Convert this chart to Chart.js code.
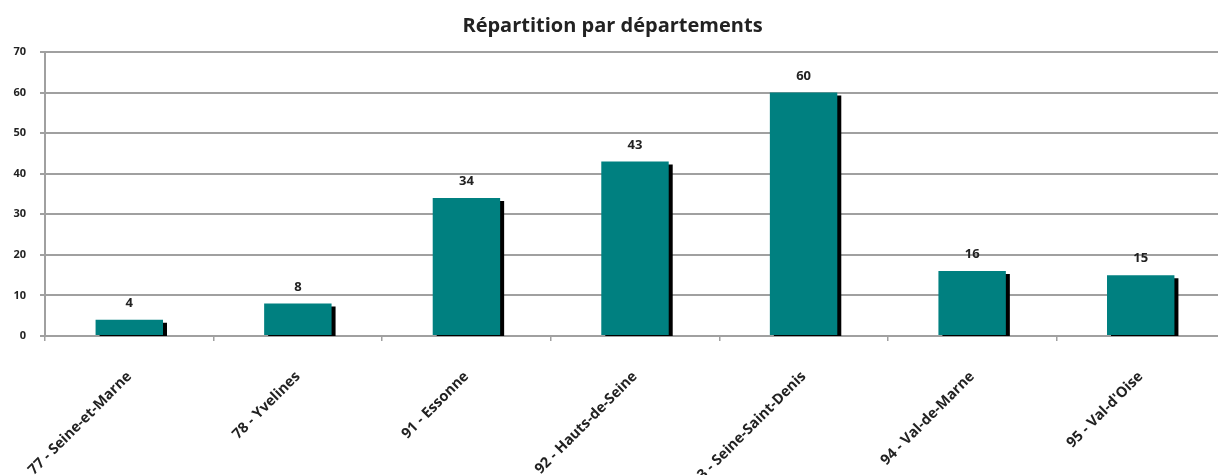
<!DOCTYPE html>
<html>
<head>
<meta charset="utf-8">
<script src="https://cdn.jsdelivr.net/npm/chart.js@4/dist/chart.umd.min.js"></script>
<style>
  html, body { margin: 0; padding: 0; background: #fff; overflow: hidden; }
  #wrap { width: 1225px; height: 475px; position: relative; }
</style>
</head>
<body>
<div id="wrap"><canvas id="c"></canvas></div>
<script>
const categories = [
  "77 - Seine-et-Marne",
  "78 - Yvelines",
  "91 - Essonne",
  "92 - Hauts-de-Seine",
  "93 - Seine-Saint-Denis",
  "94 - Val-de-Marne",
  "95 - Val-d'Oise"
];
const values = [4, 8, 34, 43, 60, 16, 15];
const yTicks = [0, 10, 20, 30, 40, 50, 60, 70];
const chartTitle = "Répartition par départements";

const FONT = "'Open Sans', 'Liberation Sans', sans-serif";

const shadowPlugin = {
  id: 'barShadow',
  beforeDatasetDraw(chart) {
    const ctx = chart.ctx;
    ctx.save();
    ctx.shadowColor = '#000';
    ctx.shadowOffsetX = 4;
    ctx.shadowOffsetY = 3;
    ctx.shadowBlur = 0;
  },
  afterDatasetDraw(chart) {
    chart.ctx.restore();
  }
};

const labelPlugin = {
  id: 'valueLabels',
  afterDatasetsDraw(chart) {
    const ctx = chart.ctx;
    const meta = chart.getDatasetMeta(0);
    ctx.save();
    ctx.font = "bold 13px " + FONT;
    ctx.fillStyle = '#222';
    ctx.textAlign = 'center';
    ctx.textBaseline = 'bottom';
    meta.data.forEach((bar, i) => {
      ctx.fillText(String(values[i]), bar.x, bar.y - 10);
    });
    ctx.restore();
  }
};

new Chart(document.getElementById('c'), {
  type: 'bar',
  data: {
    labels: categories,
    datasets: [{
      data: values,
      backgroundColor: '#008080',
      borderWidth: 0,
      categoryPercentage: 0.4,
      barPercentage: 1.0,
      clip: 0
    }]
  },
  options: {
    responsive: true,
    maintainAspectRatio: false,
    animation: false,
    layout: { padding: { top: 8, right: 0, left: 0, bottom: 0 } },
    plugins: {
      legend: { display: false },
      tooltip: { enabled: false },
      title: {
        display: true,
        text: chartTitle,
        color: '#222',
        font: { family: FONT, size: 20, weight: 'bold' },
        padding: { top: 6, bottom: 14 }
      }
    },
    scales: {
      x: {
        offset: true,
        grid: {
          display: true,
          offset: true,
          drawOnChartArea: false,
          drawTicks: true,
          tickLength: 5,
          color: '#a0a0a0',
          lineWidth: 1.5
        },
        border: { display: true, color: '#a0a0a0', width: 2 },
        ticks: {
          maxRotation: 45,
          minRotation: 45,
          autoSkip: false,
          padding: 27,
          color: '#222',
          font: { family: FONT, size: 14.5, weight: 'bold' }
        },
        afterFit(scale) { scale.height = 139; }
      },
      y: {
        min: 0,
        max: 70,
        afterBuildTicks(scale) { scale.ticks = yTicks.map(v => ({ value: v })); },
        grid: {
          color: '#a0a0a0',
          lineWidth: 2,
          drawTicks: true,
          tickLength: 5
        },
        border: { display: true, color: '#a0a0a0', width: 2 },
        ticks: {
          padding: 14,
          color: '#222',
          font: { family: FONT, size: 11, weight: 'bold' }
        },
        afterFit(scale) { scale.width = 45; }
      }
    }
  },
  plugins: [shadowPlugin, labelPlugin]
});
</script>
</body>
</html>
